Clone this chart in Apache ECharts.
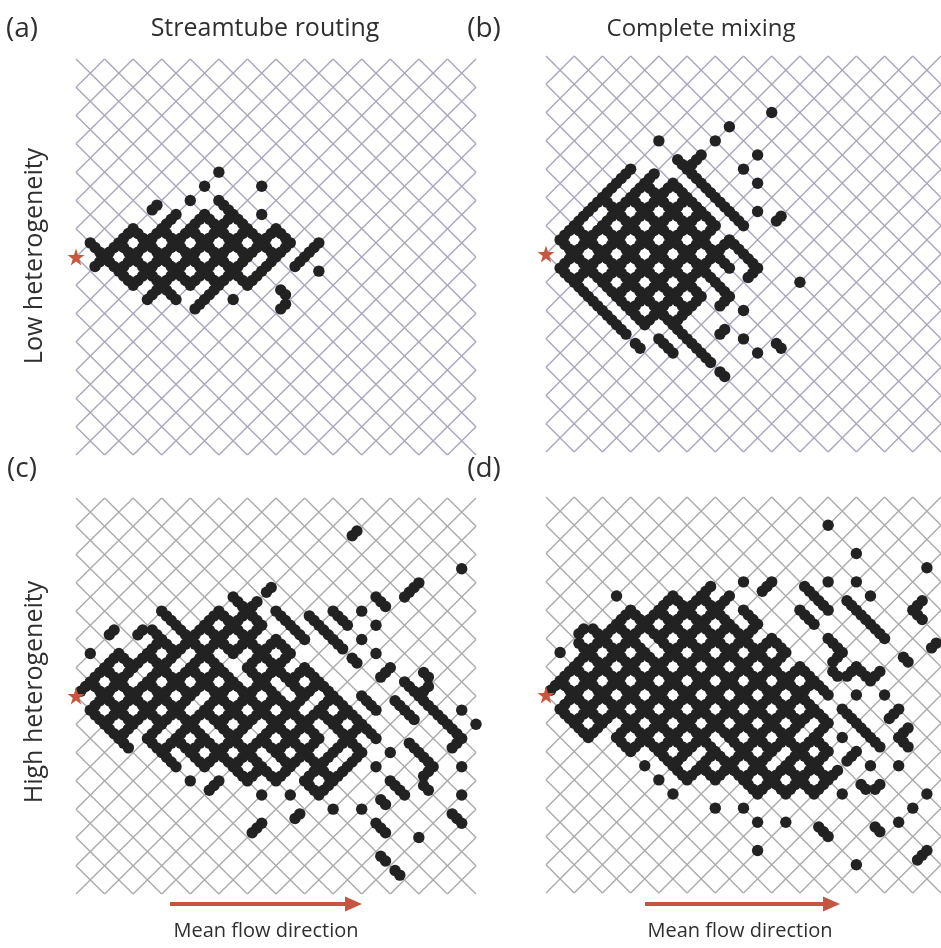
<!DOCTYPE html>
<html>
<head>
<meta charset="utf-8">
<script src="https://cdn.jsdelivr.net/npm/echarts@6/dist/echarts.min.js"></script>
<style>
html,body{margin:0;padding:0;background:#ffffff;}
#chart{width:941px;height:948px;}
</style>
</head>
<body>
<div id="chart"></div>
<script>
// Lattice: rotated square network, coordinates in half-cell units (u right, v down).
// Nodes sit at integer (u,v) with u+v even; a half-integer (u,v) names the bond whose centre it is.
const LATTICE_SIZE = 28;
const SOURCE = [0, 14];

// Panel titles and labels
const columnTitles = ['Streamtube routing', 'Complete mixing'];
const rowTitles = ['Low heterogeneity', 'High heterogeneity'];
const panelLetters = ['(a)', '(b)', '(c)', '(d)'];
const arrowLabel = 'Mean flow direction';

// Fully occupied lattice cells (cell centre, u+v odd): all four corner nodes and four bonds hold particles
const cellsA = [
  [11,12],
  [4,13],[6,13],[8,13],[10,13],[12,13],[14,13],
  [3,14],[5,14],[7,14],[9,14],[11,14],
  [4,15],[6,15],[8,15],[10,15]
];
// Individual occupied nodes / bonds
const dotsA = [
  [10,8],[13,9],[9,9],[10,10],[10.5,10.5],[8,10],[5.5,10.5],[6.5,11.5],[7,11],[13,11],[14,12],
  [9,11],[8.5,11.5],[9.5,11.5],
  [1,13],[1.5,13.5],[1.5,14.5],
  [15.5,14.5],[16,14],[16.5,13.5],[17,13],[17,15],[13,15],[13.5,14.5],[12.5,15.5],[11.5,15.5],[12,16],
  [5,17],[5.5,16.5],[6.5,16.5],[7,17],[8.5,17.5],[9,17],[9.5,16.5],[11,17],[14.5,16.5],[14.5,17.5]
];
// Empty bonds inside an otherwise occupied region
const gapsA = [];

const cellsB = [
  [7,10],[9,10],
  [4,11],[6,11],[8,11],[10,11],
  [3,12],[5,12],[7,12],[9,12],[11,12],
  [2,13],[4,13],[6,13],[8,13],[10,13],[12,13],
  [3,14],[5,14],[7,14],[9,14],[11,14],
  [2,15],[4,15],[6,15],[8,15],[10,15],
  [5,16],[7,16],[9,16],[11,16],
  [6,17],[8,17],[10,17],
  [7,18],[9,18]
];
const dotsB = [
  [16,4],[13,5],[12,6],[8,6],[15,7],[14,8],[15,9],[15,11],[16.5,11.5],[18,16],[15,15],[14.5,15.5],
  [14,18],[12.5,19.5],[14,20],[15,21],[16.5,20.5],[12.5,22.5],[11,21],[11.5,21.5],[10.5,20.5],[10,20],
  [9.5,19.5],[9,21],[8.5,20.5],[8,20],[6.5,20.5],[5.5,19.5],[5,19],[4.5,18.5],[12.5,17.5],
  [4.5,9.5],[5.5,8.5],[6,8],[7.5,8.5],[5,9],[6.5,9.5],[3.5,10.5],[3,11],[2.5,11.5],[2,12],[1.5,12.5],
  [9.5,7.5],[10,8],[10.5,7.5],[11,7],[10.5,8.5],[11,9],[11.5,9.5],
  [1,13],[1.5,13.5],[1,15],[1.5,15.5],[2,16],[2.5,16.5],[3,17],[3.5,17.5],[4,18],
  [12,10],[12.5,10.5],[13,11],[13.5,11.5],[14,12],[13.5,13.5],[14,14],[14.5,14.5],[12.5,14.5],[13,15],
  [12.5,16.5],[13,17]
];
const gapsB = [[3.5,11.5],[12.5,12.5],[11.5,16.5]];

const cellsC = [
  [10,9],[12,9],
  [9,10],[11,10],[13,10],
  [6,11],[8,11],[10,11],[12,11],[14,11],
  [3,12],[5,12],[7,12],[9,12],[11,12],[13,12],[15,12],
  [2,13],[4,13],[6,13],[8,13],[10,13],[12,13],[14,13],[16,13],
  [3,14],[5,14],[7,14],[9,14],[11,14],[13,14],[15,14],[17,14],
  [2,15],[4,15],[6,15],[8,15],[10,15],[12,15],[14,15],[16,15],[18,15],
  [3,16],[7,16],[9,16],[11,16],[13,16],[15,16],[17,16],[19,16],
  [6,17],[8,17],[10,17],[12,17],[14,17],[16,17],[18,17],
  [9,18],[11,18],[13,18],[15,18],[17,18],[19,18],
  [12,19],[14,19],[16,19],[18,19],
  [17,20]
];
const dotsC = [
  [19.5,2.5],[27,5],[24,6],[23.5,6.5],[23,7],[13.5,6.5],[21,7],[21.5,7.5],[20,8],[21,9],[20,10],
  [18,8],[18.5,8.5],[19,9],[17,9],[18,10],[16.5,8.5],[17.5,9.5],[16,10],[18.5,10.5],[15,9],[15.5,9.5],
  [11,7],[11.5,7.5],[10,8],[10.5,8.5],[12.5,7.5],[14,8],[14.5,8.5],[12,8],[12.5,8.5],[13,9],
  [7,9],[7.5,9.5],[8.5,9.5],[9,9],
  [6,8],[6.5,8.5],[2.5,9.5],[4.5,9.5],[5.5,9.5],[5.5,10.5],[1,11],[2.5,11.5],[3.5,11.5],
  [0.5,13.5],[1,13],[1.5,13.5],[1.5,14.5],[1,15],[1.5,15.5],[2,16],[2.5,16.5],[3,17],[3.5,17.5],
  [6,18],[6.5,18.5],[7,19],[8,20],[9.5,20.5],[10,20],[12,20],[13,21],[14,20],[15,21],[16,20],[18,20],
  [19.5,11.5],[21,11],[21.5,12.5],[22,12],[23,13],[23.5,13.5],[24,14],[24.5,12.5],[24.5,13.5],
  [20,14],[20.5,14.5],[21,15],[22.5,14.5],[23,15],[23.5,15.5],[24.5,14.5],[25,15],[25.5,15.5],
  [26,16],[26.5,16.5],[27,15],[28,16],[20.5,16.5],[21,17],[22,18],[23.5,17.5],[24,18],[24.5,18.5],
  [25,19],[26.5,17.5],[27,17],[27,19],[24.5,19.5],[21,19],[22,20],[22.5,20.5],[23,21],[21.5,21.5],
  [24.5,20.5],[27,21],[26.5,22.5],[27,23],[24,24],[22.5,26.5],[21.5,25.5],[21,23],[21.5,23.5],
  [20,22],[18,22],[15.5,22.5],[13,23],[12.5,23.5]
];
const gapsC = [
  [10.5,11.5],[11.5,12.5],[11.5,11.5],[8.5,14.5],[14.5,13.5],[15.5,11.5],[6.5,16.5],
  [17.5,16.5],[17.5,17.5],[13.5,18.5],[12.5,16.5],[4.5,12.5],[9.5,16.5],[16.5,14.5],
  [18.5,18.5],[15.5,19.5],[7.5,11.5],[13.5,9.5]
];

const cellsD = [
  [9,8],[11,8],
  [6,9],[8,9],[10,9],[12,9],[14,9],
  [5,10],[7,10],[9,10],[11,10],[13,10],[15,10],
  [4,11],[6,11],[8,11],[10,11],[12,11],[14,11],[16,11],
  [3,12],[5,12],[7,12],[9,12],[11,12],[13,12],[15,12],[17,12],
  [2,13],[4,13],[6,13],[8,13],[10,13],[12,13],[14,13],[16,13],[18,13],
  [3,14],[5,14],[7,14],[9,14],[11,14],[13,14],[15,14],[17,14],[19,14],
  [2,15],[4,15],[6,15],[8,15],[10,15],[12,15],[14,15],[16,15],[18,15],
  [3,16],[5,16],[7,16],[9,16],[11,16],[13,16],[15,16],[17,16],[19,16],
  [6,17],[8,17],[10,17],[12,17],[14,17],[16,17],[18,17],
  [9,18],[11,18],[13,18],[15,18],[17,18],[19,18],
  [10,19],[12,19],[14,19],[16,19],[18,19],
  [15,20],[17,20],[19,20]
];
const dotsD = [
  [20,2],[22,4],[27,5],[16,6],[20,6],[22,6],[15.5,6.5],[14,6],[11.5,6.5],[11,7],[12.5,7.5],[13,7],[9.5,7.5],
  [18.5,6.5],[19,7],[19.5,7.5],[20,8],[21.5,7.5],[22,8],[22.5,8.5],[23,7],[23,9],[23.5,9.5],[24,10],
  [26,8],[26.5,7.5],[26.5,8.5],[27.5,10.5],[25.5,11.5],
  [18,8],[18.5,8.5],[19,9],[20,10],[20.5,10.5],[21,11],[20.5,11.5],[20.5,12.5],[21.5,12.5],
  [22,12],[22.5,12.5],[23,13],[23.5,12.5],[22,14],[24,14],[25,15],[22,16],[24.5,15.5],[25.5,16.5],
  [22.5,16.5],[23,17],[23.5,17.5],[25,17],[21,15],[21.5,15.5],[21,17],[22,18],[21.5,18.5],[20.5,19.5],
  [23,19],[25,19],[25.5,17.5],
  [5,7],[2.5,9.5],[3.5,9.5],[2.5,10.5],[1,11],[0.5,13.5],[1,13],[1,15],[1.5,15.5],[2,16],
  [6,18],[7,19],[8,20],[9,21],[10,20],[12,22],[14,22],[15,23],[15,25],[17,23],[19.5,23.5],[20,24],
  [22,26],[23.5,23.5],[25,23],[26.5,25.5],[27,25],[26,22],[27,21],[21,21],[22.5,20.5],[23.5,20.5]
];
const gapsD = [
  [7.5,10.5],[12.5,17.5],[16.5,18.5],[15.5,9.5],[18.5,16.5],[10.5,18.5],[4.5,16.5],[17.5,11.5],
  [13.5,8.5],[19.5,14.5]
];

// Panel placement on the page (pixels) and lattice line colour
const panelBoxes = [
  { left: 76,  top: 59,  lineColor: '#a9a7bc' },
  { left: 546, top: 56,  lineColor: '#a9a7bc' },
  { left: 76,  top: 498, lineColor: '#ababad' },
  { left: 546, top: 497, lineColor: '#ababad' }
];
const BOX_W = 400, BOX_H = 396;
const panelCells = [cellsA, cellsB, cellsC, cellsD];
const panelDots = [dotsA, dotsB, dotsC, dotsD];
const panelGaps = [gapsA, gapsB, gapsC, gapsD];

// Around a cell centre: four corner nodes and four bond centres
function cellSites(c) {
  const u = c[0], v = c[1];
  return [
    [u, v - 1], [u + 1, v], [u, v + 1], [u - 1, v],
    [u - 0.5, v - 0.5], [u + 0.5, v - 0.5], [u + 0.5, v + 0.5], [u - 0.5, v + 0.5]
  ];
}
// A node holds one particle; an occupied bond holds two, at one and two thirds of its length
function particles(site) {
  const u = site[0], v = site[1];
  if (Number.isInteger(u)) return [[u, v]];
  const du = 1 / 6;
  const dv = (((u - v) % 2) + 2) % 2 === 0 ? 1 / 6 : -1 / 6;   // '\' bond or '/' bond
  return [[u - du, v - dv], [u + du, v + dv]];
}
function collectParticles(cells, dots, gaps) {
  const seen = new Set(gaps.map(g => g[0] + ',' + g[1]));
  const out = [];
  const add = s => {
    const k = s[0] + ',' + s[1];
    if (seen.has(k)) return;
    seen.add(k);
    particles(s).forEach(p => out.push(p));
  };
  cells.forEach(c => cellSites(c).forEach(add));
  dots.forEach(add);
  return out;
}
// Lattice bonds: both diagonal families, clipped to the square domain
function latticeSegments(n) {
  const segs = [];
  for (let c = -n; c <= n; c += 2) {          // u - v = c
    const u1 = Math.max(0, c), u2 = Math.min(n, n + c);
    if (u2 > u1) segs.push([u1, u1 - c, u2, u2 - c]);
  }
  for (let c = 0; c <= 2 * n; c += 2) {       // u + v = c
    const u1 = Math.max(0, c - n), u2 = Math.min(n, c);
    if (u2 > u1) segs.push([u1, c - u1, u2, c - u2]);
  }
  return segs;
}

const starPath = 'path://M50,0 L61.8,35.3 L99,35.3 L69,57.1 L80.4,92.7 L50,70.6 L19.6,92.7 L31,57.1 L1,35.3 L38.2,35.3 Z';
const segments = latticeSegments(LATTICE_SIZE);

const grids = [], xAxes = [], yAxes = [], series = [];
panelBoxes.forEach((b, i) => {
  grids.push({ left: b.left, top: b.top, width: BOX_W, height: BOX_H, containLabel: false, show: false });
  xAxes.push({ gridIndex: i, type: 'value', min: 0, max: LATTICE_SIZE, show: false });
  yAxes.push({ gridIndex: i, type: 'value', min: 0, max: LATTICE_SIZE, inverse: true, show: false });
  const color = b.lineColor;
  series.push({
    type: 'custom', xAxisIndex: i, yAxisIndex: i, silent: true, clip: false, z: 1,
    data: segments,
    renderItem: (params, api) => {
      const p1 = api.coord([api.value(0), api.value(1)]);
      const p2 = api.coord([api.value(2), api.value(3)]);
      return { type: 'line', shape: { x1: p1[0], y1: p1[1], x2: p2[0], y2: p2[1] },
               style: { stroke: color, lineWidth: 1.4 } };
    }
  });
  series.push({
    type: 'scatter', xAxisIndex: i, yAxisIndex: i, silent: true, clip: false, z: 2,
    symbol: 'circle', symbolSize: 11.4,
    itemStyle: { color: '#222222', opacity: 1 },
    data: collectParticles(panelCells[i], panelDots[i], panelGaps[i])
  });
  series.push({
    type: 'scatter', xAxisIndex: i, yAxisIndex: i, silent: true, clip: false, z: 3,
    symbol: starPath, symbolSize: 17,
    itemStyle: { color: '#c8573f', opacity: 1 },
    data: [SOURCE]
  });
});

const TXT = '#2f2f2f';
const FONT = '"Open Sans", "Noto Sans", sans-serif';
function label(text, x, y, size, extra) {
  return Object.assign({
    type: 'text', x: x, y: y, silent: true, z: 10,
    style: { text: text, fill: TXT, font: size + 'px ' + FONT,
             textAlign: 'center', textVerticalAlign: 'middle', align: 'center', verticalAlign: 'middle' }
  }, extra || {});
}
function arrow(x1, x2, y) {
  return {
    type: 'group', silent: true, z: 10,
    children: [
      { type: 'line', shape: { x1: x1, y1: y, x2: x2 - 12, y2: y }, style: { stroke: '#c5553e', lineWidth: 4 } },
      { type: 'polygon', shape: { points: [[x2 - 17, y - 7.5], [x2, y], [x2 - 17, y + 7.5]] }, style: { fill: '#c5553e' } }
    ]
  };
}

const graphics = [
  label(panelLetters[0], 22, 29, 28),
  label(columnTitles[0], 265, 29, 25),
  label(panelLetters[1], 484, 29, 28),
  label(columnTitles[1], 701, 29, 24),
  label(panelLetters[2], 22, 469, 28),
  label(panelLetters[3], 484, 469, 28),
  label(rowTitles[0], 35, 256, 25, { rotation: Math.PI / 2 }),
  label(rowTitles[1], 35, 692, 25, { rotation: Math.PI / 2 }),
  arrow(170, 362, 904),
  arrow(645, 840, 904),
  label(arrowLabel, 266, 931, 20),
  label(arrowLabel, 740, 931, 20)
];

const chart = echarts.init(document.getElementById('chart'), null, { renderer: 'canvas' });
chart.setOption({
  animation: false,
  backgroundColor: '#ffffff',
  grid: grids,
  xAxis: xAxes,
  yAxis: yAxes,
  series: series,
  graphic: graphics
});
</script>
</body>
</html>
